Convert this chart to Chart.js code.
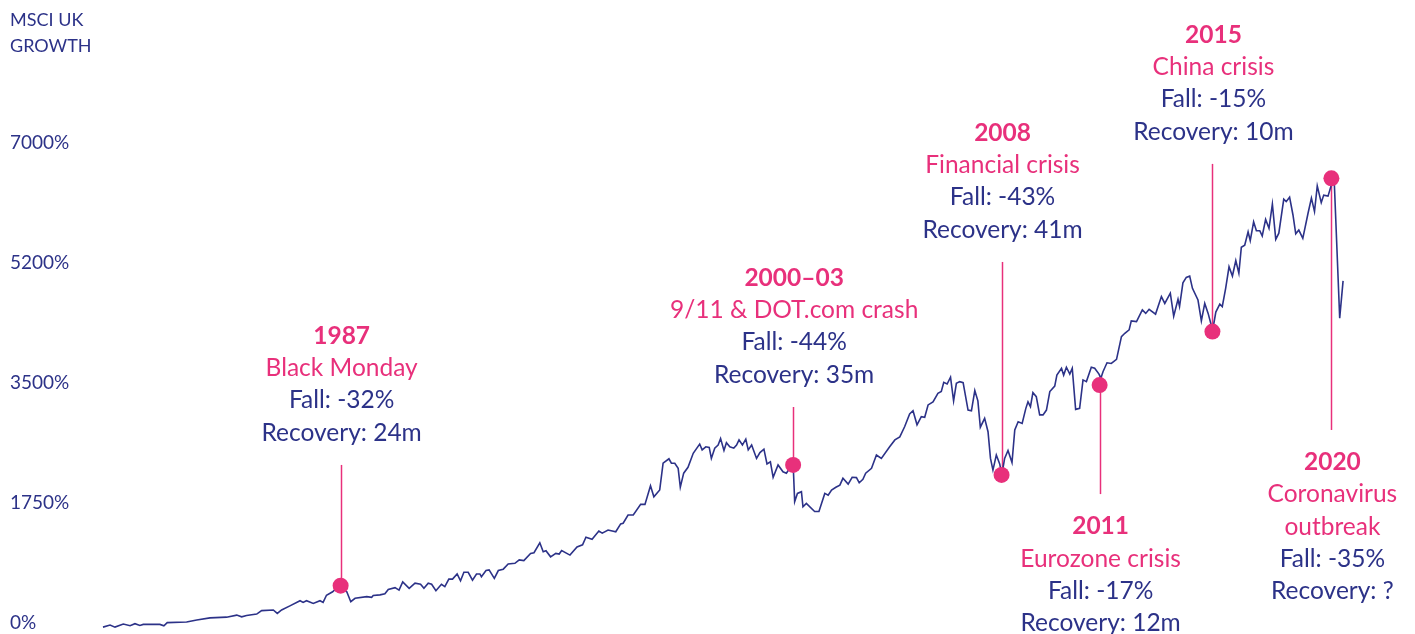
<!DOCTYPE html>
<html>
<head>
<meta charset="utf-8">
<script src="https://cdn.jsdelivr.net/npm/chart.js@4.4.1/dist/chart.umd.min.js"></script>
<style>
  html, body { margin: 0; padding: 0; background: #fff; }
  #wrap { width: 1415px; height: 634px; }
</style>
</head>
<body>
<div id="wrap"><canvas id="growthChart" width="1415" height="634"></canvas></div>
<script>
// MSCI UK growth since 1980

const NAVY = "#2c3288";
const PINK = "#e8307b";
const FONT = "Lato, 'Noto Sans', sans-serif";

// date (decimal year) and cumulative growth in %
const growthDates = [
  1980.00, 1980.23, 1980.39, 1980.66, 1980.88, 1981.04, 1981.20, 1981.31, 1981.85, 1981.98,
  1982.09, 1982.72, 1983.05, 1983.48, 1984.02, 1984.35, 1984.51, 1984.67, 1985.00, 1985.16,
  1985.54, 1985.67, 1985.81, 1986.08, 1986.41, 1986.51, 1986.62, 1986.84, 1987.06, 1987.16,
  1987.27, 1987.47, 1987.67, 1987.93, 1988.06, 1988.20, 1988.58, 1988.74, 1988.79, 1989.01,
  1989.17, 1989.28, 1989.50, 1989.63, 1989.75, 1989.96, 1990.15, 1990.33, 1990.44, 1990.58,
  1990.69, 1990.83, 1991.01, 1991.12, 1991.25, 1991.37, 1991.52, 1991.63, 1991.74, 1991.88,
  1992.02, 1992.15, 1992.26, 1992.31, 1992.46, 1992.56, 1992.73, 1992.86, 1993.02, 1993.18,
  1993.40, 1993.54, 1993.69, 1993.91, 1994.02, 1994.21, 1994.32, 1994.41, 1994.56, 1994.73,
  1994.84, 1994.92, 1995.19, 1995.42, 1995.60, 1995.71, 1995.91, 1996.13, 1996.24, 1996.43,
  1996.68, 1996.84, 1996.92, 1997.08, 1997.25, 1997.49, 1997.63, 1997.81, 1997.92, 1998.11,
  1998.22, 1998.41, 1998.49, 1998.60, 1998.71, 1998.78, 1998.89, 1999.03, 1999.20, 1999.41,
  1999.49, 1999.61, 1999.72, 1999.79, 1999.90, 2000.01, 2000.09, 2000.20, 2000.28, 2000.39,
  2000.52, 2000.61, 2000.69, 2000.80, 2000.91, 2000.99, 2001.10, 2001.26, 2001.37, 2001.50,
  2001.60, 2001.71, 2001.80, 2001.96, 2002.12, 2002.23, 2002.45, 2002.50, 2002.59, 2002.72,
  2002.77, 2002.88, 2003.15, 2003.29, 2003.48, 2003.59, 2003.70, 2003.84, 2003.97, 2004.07,
  2004.24, 2004.37, 2004.51, 2004.60, 2004.72, 2004.81, 2005.00, 2005.16, 2005.32, 2005.59,
  2005.76, 2005.92, 2006.08, 2006.24, 2006.35, 2006.48, 2006.62, 2006.73, 2006.84, 2007.00,
  2007.16, 2007.27, 2007.35, 2007.46, 2007.57, 2007.67, 2007.76, 2007.87, 2007.98, 2008.14,
  2008.25, 2008.36, 2008.46, 2008.54, 2008.68, 2008.79, 2008.87, 2008.95, 2009.06, 2009.17,
  2009.24, 2009.33, 2009.44, 2009.57, 2009.66, 2009.77, 2009.90, 2010.02, 2010.09, 2010.17,
  2010.25, 2010.36, 2010.47, 2010.58, 2010.69, 2010.80, 2010.96, 2011.03, 2011.18, 2011.25,
  2011.34, 2011.45, 2011.53, 2011.64, 2011.77, 2011.88, 2011.99, 2012.15, 2012.26, 2012.40,
  2012.46, 2012.53, 2012.66, 2012.80, 2012.97, 2013.13, 2013.24, 2013.38, 2013.45, 2013.62,
  2013.81, 2013.92, 2014.03, 2014.24, 2014.43, 2014.54, 2014.72, 2014.83, 2014.97, 2015.02,
  2015.13, 2015.24, 2015.35, 2015.44, 2015.62, 2015.73, 2015.84, 2015.95, 2016.05, 2016.10,
  2016.20, 2016.33, 2016.41, 2016.52, 2016.63, 2016.74, 2016.85, 2016.95, 2017.03, 2017.14,
  2017.25, 2017.32, 2017.43, 2017.52, 2017.63, 2017.71, 2017.82, 2017.93, 2018.04, 2018.15,
  2018.25, 2018.41, 2018.49, 2018.60, 2018.71, 2018.80, 2018.90, 2019.03, 2019.20, 2019.31,
  2019.41, 2019.50, 2019.63, 2019.71, 2019.85, 2019.96, 2020.05, 2020.23, 2020.34
];

const growthValues = [
  -60, -30, -60, -15, -40, -10, -35, -20, -20, -40,
  5, 15, 45, 75, 85, 115, 90, 110, 130, 180,
  190, 140, 190, 250, 325, 300, 325, 285, 325, 300,
  405, 455, 540, 455, 310, 360, 385, 375, 400, 410,
  425, 490, 515, 480, 600, 505, 580, 565, 505, 580,
  565, 470, 565, 530, 640, 640, 715, 615, 740, 740,
  625, 715, 715, 675, 765, 775, 650, 765, 785, 860,
  870, 920, 910, 1015, 1025, 1170, 1040, 1055, 965, 1015,
  1005, 1055, 990, 1110, 1140, 1250, 1220, 1340, 1310, 1355,
  1330, 1445, 1455, 1575, 1575, 1730, 1730, 2000, 1840, 1940,
  2330, 2395, 2330, 2330, 2255, 1980, 2185, 2270, 2475, 2610,
  2525, 2570, 2560, 2400, 2550, 2595, 2690, 2515, 2630, 2570,
  2550, 2595, 2670, 2595, 2680, 2525, 2595, 2400, 2485, 2535,
  2320, 2350, 2125, 2305, 2205, 2185, 2330, 1770, 1890, 1915,
  1695, 1745, 1625, 1625, 1890, 1865, 1940, 1980, 2010, 2110,
  2025, 2125, 2120, 2045, 2095, 2185, 2255, 2450, 2400, 2570,
  2670, 2715, 2865, 3050, 3095, 2890, 3010, 3000, 3180, 3225,
  3350, 3375, 3510, 3485, 3585, 3240, 3495, 3520, 3505, 3105,
  3095, 3390, 3240, 2855, 2985, 2790, 2400, 2230, 2450, 2320,
  2160, 2400, 2515, 2340, 2815, 2935, 2910, 3130, 3225, 3155,
  3360, 3300, 3035, 3035, 3105, 3375, 3455, 3615, 3715, 3615,
  3730, 3630, 3715, 3115, 3130, 3545, 3520, 3730, 3715, 3630,
  3570, 3665, 3795, 3785, 3845, 4175, 4225, 4275, 4405, 4395,
  4565, 4515, 4575, 4505, 4760, 4660, 4810, 4475, 4720, 4615,
  4960, 5040, 5060, 4880, 4710, 4405, 4660, 4515, 4345, 4275,
  4535, 4650, 4615, 4880, 5195, 5060, 5285, 5100, 5480, 5510,
  5705, 5575, 5850, 5720, 5720, 5645, 5885, 5755, 6110, 5595,
  5685, 6180, 6145, 6210, 5950, 5675, 5730, 5610, 5975, 6195,
  6000, 6375, 6130, 6240, 6225, 6390, 6470, 4445, 4990
];

// y axis ticks as printed in the reference
const tickValues = [0, 1750, 3500, 5250, 7000];
const tickLabels = ["0%", "1750%", "3500%", "5200%", "7000%"];

// crisis markers
const eventDates  = [1987.73, 2002.45, 2009.23, 2012.42, 2016.09, 2019.96];
const eventValues = [545, 2305, 2160, 3470, 4250, 6485];
const eventLabelValues = [2305, 3150, 5265, 1880, 6695, 2815]; // where the pink stem ends
const eventSides  = ["up", "up", "up", "down", "up", "down"];
const eventYears  = ["1987", "2000–03", "2008", "2011", "2015", "2020"];
const eventNames  = ["Black Monday", "9/11 & DOT.com crash", "Financial crisis",
                     "Eurozone crisis", "China crisis", "Coronavirus\noutbreak"];
const eventFalls  = ["-32%", "-44%", "-43%", "-17%", "-15%", "-35%"];
const eventRecoveries = ["24m", "35m", "41m", "12m", "10m", "?"];

const LINE_H = 32.3;

const crisisLabels = {
  id: "crisisLabels",
  beforeDatasetsDraw(chart) {
    const { ctx, scales: { x, y } } = chart;
    ctx.save();
    ctx.strokeStyle = PINK;
    ctx.lineWidth = 1.5;
    eventDates.forEach((d, i) => {
      const px = Math.round(x.getPixelForValue(d)) + 0.5;
      ctx.beginPath();
      ctx.moveTo(px, y.getPixelForValue(eventValues[i]));
      ctx.lineTo(px, y.getPixelForValue(eventLabelValues[i]));
      ctx.stroke();
    });
    ctx.restore();
  },
  afterDraw(chart) {
    const { ctx, scales: { x, y } } = chart;
    ctx.save();
    ctx.textAlign = "center";
    ctx.textBaseline = "middle";
    eventDates.forEach((d, i) => {
      const px = x.getPixelForValue(d) + 1;
      const anchor = y.getPixelForValue(eventLabelValues[i]);
      const lines = [{ t: eventYears[i], bold: true, c: PINK }];
      eventNames[i].split("\n").forEach(n => lines.push({ t: n, c: PINK }));
      lines.push({ t: "Fall: " + eventFalls[i], c: NAVY });
      lines.push({ t: "Recovery: " + eventRecoveries[i], c: NAVY });
      lines.forEach((l, k) => {
        let ly;
        if (eventSides[i] === "up") ly = anchor - LINE_H * (lines.length - k);
        else ly = anchor + LINE_H * (k + 1);
        ctx.font = (l.bold ? "bold " : "") + "24.5px " + FONT;
        ctx.fillStyle = l.c;
        ctx.fillText(l.t, px, ly);
      });
    });
    ctx.restore();
  }
};

new Chart(document.getElementById("growthChart").getContext("2d"), {
  type: "line",
  data: {
    datasets: [
      {
        label: "Crises",
        data: eventDates.map((d, i) => ({ x: d, y: eventValues[i] })),
        showLine: false,
        pointRadius: 8,
        pointHoverRadius: 8,
        pointBackgroundColor: PINK,
        pointBorderWidth: 0,
        order: 1
      },
      {
        label: "MSCI UK growth",
        data: growthDates.map((d, i) => ({ x: d, y: growthValues[i] })),
        borderColor: NAVY,
        borderWidth: 1.6,
        pointRadius: 0,
        tension: 0,
        fill: false,
        clip: false,
        order: 2
      }
    ]
  },
  options: {
    responsive: false,
    animation: false,
    events: [],
    layout: { padding: { left: 10, right: 67, top: 0, bottom: 11 } },
    plugins: {
      legend: { display: false },
      tooltip: { enabled: false },
      title: {
        display: true,
        text: ["MSCI UK", "GROWTH"],
        align: "start",
        color: NAVY,
        font: { family: FONT, size: 18, weight: "normal", lineHeight: 1.444 },
        padding: { top: 7, bottom: 84 }
      }
    },
    scales: {
      x: {
        type: "linear",
        min: 1980,
        max: 2020.5,
        display: false
      },
      y: {
        min: 0,
        max: 7000,
        grid: { display: false },
        border: { display: false },
        afterFit(scale) {
          scale.width = 93;
          scale.paddingTop = 0;
          scale.paddingBottom = 0;
        },
        afterBuildTicks(scale) { scale.ticks = tickValues.map(v => ({ value: v })); },
        ticks: {
          crossAlign: "far",
          color: NAVY,
          font: { family: FONT, size: 19 },
          callback: (v, i) => tickLabels[i]
        }
      }
    }
  },
  plugins: [crisisLabels]
});
</script>
</body>
</html>
